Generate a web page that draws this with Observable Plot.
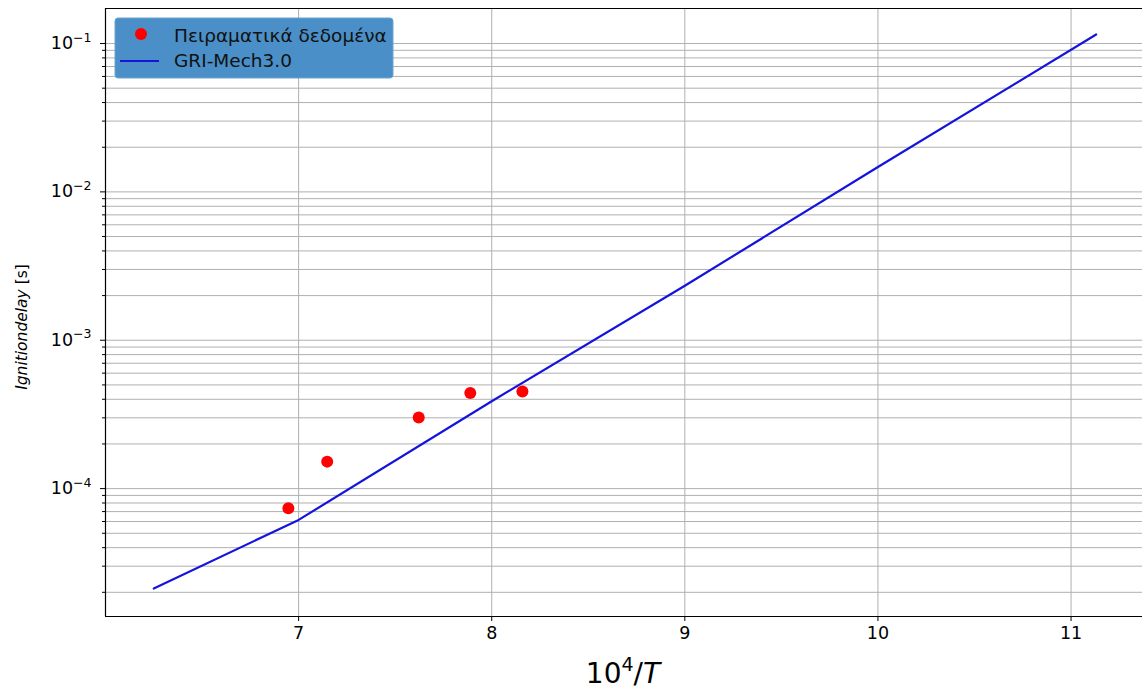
<!DOCTYPE html>
<html>
<head>
<meta charset="utf-8">
<script src="https://cdn.jsdelivr.net/npm/d3@7"></script>
<script src="https://cdn.jsdelivr.net/npm/@observablehq/plot@0.6"></script>
<style>
  html, body { margin: 0; padding: 0; background: #fff; }
  svg { font-family: "DejaVu Sans", sans-serif; }
</style>
</head>
<body>
<div id="chart"></div>
<script>
// Experimental data (10^4/T, ignition delay [s])
const expX = [6.947, 7.148, 7.622, 7.889, 8.159];
const expY = [7.36e-5, 1.52e-4, 3.02e-4, 4.41e-4, 4.52e-4];
// GRI-Mech3.0 simulation
const simX = [6.25, 7.0, 8.0, 9.0, 10.0, 11.13];
const simY = [2.12e-5, 6.15e-5, 3.88e-4, 2.33e-3, 1.47e-2, 0.115];
// Axis ticks
const xTicks = [7, 8, 9, 10, 11];
const yMajor = [1e-4, 1e-3, 1e-2, 1e-1];
const yMinor = [2e-5, 3e-5, 4e-5, 5e-5, 6e-5, 7e-5, 8e-5, 9e-5,
  2e-4, 3e-4, 4e-4, 5e-4, 6e-4, 7e-4, 8e-4, 9e-4,
  2e-3, 3e-3, 4e-3, 5e-3, 6e-3, 7e-3, 8e-3, 9e-3,
  2e-2, 3e-2, 4e-2, 5e-2, 6e-2, 7e-2, 8e-2, 9e-2];
const xDomain = [6.0, 11.37];
const yDomain = [1.374e-5, 0.1722];
const legendLabels = ["Πειραματικά δεδομένα", "GRI-Mech3.0"];

const expData = expX.map((x, i) => ({x, y: expY[i]}));
const simData = simX.map((x, i) => ({x, y: simY[i]}));

const fmtPow = d => "10^" + String(Math.round(Math.log10(d))).replace("-", "\u2212");

const W = 1142, H = 691;
const plot = Plot.plot({
  width: W,
  height: H,
  marginLeft: 105,
  marginRight: 0,
  marginTop: 8,
  marginBottom: 75,
  style: {fontFamily: "DejaVu Sans, sans-serif", fontSize: "17px", color: "#000", background: "#fff"},
  x: {domain: xDomain, label: null},
  y: {type: "log", domain: yDomain, label: null},
  marks: [
    Plot.gridY(yMinor, {stroke: "#b0b0b0", strokeOpacity: 1, strokeWidth: 1}),
    Plot.gridY(yMajor, {stroke: "#b0b0b0", strokeOpacity: 1, strokeWidth: 1}),
    Plot.gridX(xTicks, {stroke: "#b0b0b0", strokeOpacity: 1, strokeWidth: 1}),
    Plot.ruleX([xDomain[0]], {stroke: "#000", strokeWidth: 1.2}),
    Plot.ruleY([yDomain[0]], {stroke: "#000", strokeWidth: 1.2}),
    Plot.ruleY([yDomain[1]], {stroke: "#000", strokeWidth: 1.2}),
    Plot.axisX(xTicks, {tickSize: 5, tickPadding: 5, tickFormat: d => String(d), label: null, stroke: "#000"}),
    Plot.axisY(yMajor, {tickSize: 5, tickPadding: 9, tickFormat: fmtPow, label: null, stroke: "#000"}),
    Plot.axisY(yMinor, {tickSize: 3, tickFormat: () => "", label: null, stroke: "#000"}),
    Plot.line(simData, {x: "x", y: "y", stroke: "#1414dc", strokeWidth: 2.2}),
    Plot.dot(expData, {x: "x", y: "y", r: 6, fill: "#ff0000", stroke: "none"})
  ]
});

document.getElementById("chart").appendChild(plot);

const svg = d3.select(plot);

// Enforce tick label font size on all axis texts, and build real superscripts
svg.selectAll("text").each(function() {
  const t = d3.select(this);
  t.style("font-size", "17.5px").style("font-family", "DejaVu Sans, sans-serif");
  const s = t.text();
  if (/^10\^/.test(s)) {
    const exp = s.slice(3);
    t.text("10");
    t.append("tspan").style("font-size", "12.5px").attr("dy", "-0.6em").text(exp);
  }
});

// Y-axis label
const yl = svg.append("text")
  .attr("transform", "translate(27,327) rotate(-90)")
  .attr("text-anchor", "middle")
  .style("font-size", "15.5px")
  .attr("fill", "#000");
yl.append("tspan").attr("font-style", "italic").text("Ignitiondelay");
yl.append("tspan").text(" [s]");

// X-axis label
const xl = svg.append("text")
  .attr("x", 623)
  .attr("y", 683)
  .attr("text-anchor", "middle")
  .style("font-size", "28px")
  .attr("fill", "#000");
xl.append("tspan").text("10");
xl.append("tspan").style("font-size", "19px").attr("dy", -12).text("4");
xl.append("tspan").attr("dy", 12).text("/");
xl.append("tspan").attr("font-style", "italic").text("T");

// Legend
const lg = svg.append("g").attr("text-anchor", "start");
lg.append("rect")
  .attr("x", 115).attr("y", 18).attr("width", 278).attr("height", 60)
  .attr("rx", 3)
  .attr("fill", "#4a8fc7")
  .attr("stroke", "#6aa4d2")
  .attr("stroke-width", 1);
lg.append("circle").attr("cx", 141).attr("cy", 34).attr("r", 6).attr("fill", "#ff0000");
lg.append("line").attr("x1", 120).attr("x2", 159).attr("y1", 61).attr("y2", 61)
  .attr("stroke", "#1414dc").attr("stroke-width", 2.2);
lg.append("text").attr("x", 174).attr("y", 42).style("font-size", "18.5px").attr("fill", "#111").attr("text-anchor", "start").text(legendLabels[0]);
lg.append("text").attr("x", 174).attr("y", 67).style("font-size", "18.5px").attr("fill", "#111").attr("text-anchor", "start").text(legendLabels[1]);
</script>
</body>
</html>
